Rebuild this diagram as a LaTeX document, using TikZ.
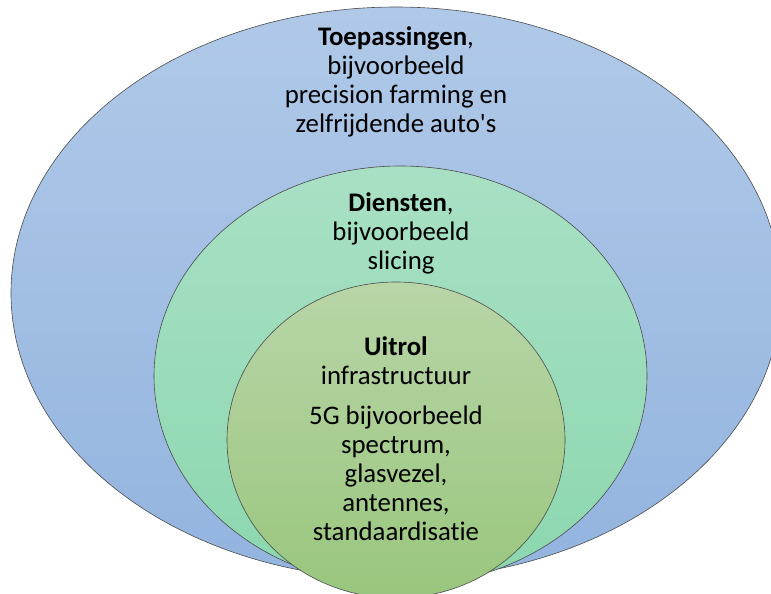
\documentclass[tikz,border=0pt]{standalone}
\usepackage{fontspec}
\setmainfont[Ligatures=NoCommon]{Carlito}
\usepackage{tikz}
\usetikzlibrary{shapes.geometric,positioning}
\definecolor{toptop}{HTML}{B0C9E8}
\definecolor{topbot}{HTML}{93B4DF}
\definecolor{midtop}{HTML}{A9E0C5}
\definecolor{midbot}{HTML}{8BD7AE}
\definecolor{coretop}{HTML}{B8D5A7}
\definecolor{corebot}{HTML}{99C67D}
\tikzstyle{ring} = [draw=black!70, line width=0.6pt]
\tikzset{
  layer/.style={
    align=center,
    inner sep=0pt,
    font=\fontsize{26.8}{29}\selectfont
    },
}

\begin{document}
\begin{tikzpicture}[
            x = 1pt, y = -1pt, % pixel units, y down
            semithick % line style
        ]
         \useasboundingbox (0,0) rectangle (771,594);

         % the three layers
         \draw[ring, top color=toptop, bottom color=topbot]
              (396,293) ellipse [x radius=385pt, y radius=286pt];
         \draw[ring, top color=midtop, bottom color=midbot]
              (400.5,376) ellipse [x radius=246.5pt, y radius=210pt];
         \draw[ring, top color=coretop, bottom color=corebot]
              (396,440) ellipse [x radius=169pt, y radius=158pt];

         \node[layer] (apps) at (396,82)
              {\textbf{Toepassingen},\\ bijvoorbeeld\\ precision farming en\\ zelfrijdende auto\textquotesingle s};
         \node[layer] (services) at (401,233)
              {\textbf{Diensten},\\ bijvoorbeeld\\ slicing};
         \node[layer] (rollout) at (396,361)
              {\textbf{Uitrol}\\ infrastructuur};
         \node[layer] (infra) [below=20pt of rollout]
              {5G bijvoorbeeld\\ spectrum,\\ glasvezel,\\ antennes,\\ standaardisatie};
  \end{tikzpicture}
\end{document}
